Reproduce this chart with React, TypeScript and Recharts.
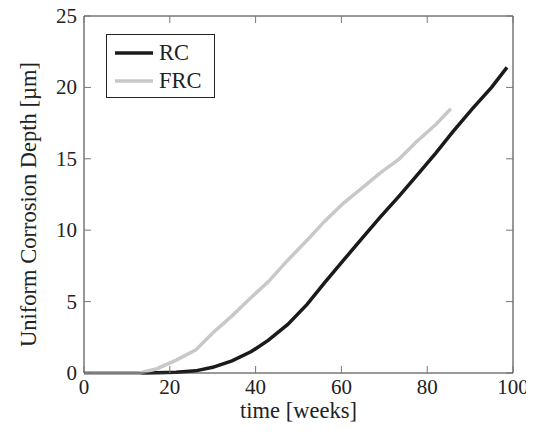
import { LineChart, Line, XAxis, YAxis, ReferenceLine, Legend, Label } from 'recharts'

// weeks / depth in µm
const rcWeeks = [0, 4, 8, 13, 17, 21.5, 26, 30, 34.5, 39, 43, 47.5, 52, 56, 60.5, 65, 69, 73.5, 77.5, 82, 86, 90.5, 95, 98.6]
const rcDepth = [0, 0, 0, 0, 0.02, 0.05, 0.15, 0.4, 0.85, 1.5, 2.3, 3.4, 4.8, 6.3, 7.9, 9.5, 10.9, 12.4, 13.8, 15.4, 16.9, 18.5, 20.0, 21.4]
const frcWeeks = [0, 4, 8, 13, 17, 21.5, 26, 30, 34.5, 39, 43, 47.5, 52, 56, 60.5, 65, 69, 73.5, 77.5, 82, 85.5]
const frcDepth = [0, 0, 0, 0, 0.3, 0.9, 1.6, 2.8, 4.0, 5.3, 6.4, 7.9, 9.3, 10.6, 11.9, 13.0, 14.0, 15.0, 16.2, 17.4, 18.5]
const xTicks = [0, 20, 40, 60, 80, 100]
const yTicks = [0, 5, 10, 15, 20, 25]

const seriesNames = ['RC', 'FRC']
const colors = ['#1a1a1a', '#c8c8c8']

const rcData = rcWeeks.map((x, i) => ({ x, y: rcDepth[i] }))
const frcData = frcWeeks.map((x, i) => ({ x, y: frcDepth[i] }))

const W = 526
const H = 435
const margin = { top: 16, right: 21, left: 8, bottom: 0 }
const Y_AXIS_W = 68
const X_AXIS_H = 62
const PW = W - margin.left - margin.right - Y_AXIS_W
const PH = H - margin.top - margin.bottom - X_AXIS_H
const TICK = 7
const FONT = '"Liberation Serif", serif'
const FS = 22.5
const TICK_FS = 21
const TICK_COLOR = '#777'
const BORDER = '#333'

const XTick = ({ x, y, payload }: any) => (
  <g>
    <line x1={x} y1={y} x2={x} y2={y - TICK} stroke={TICK_COLOR} />
    <line x1={x} y1={y - PH} x2={x} y2={y - PH + TICK} stroke={TICK_COLOR} />
    <text x={x} y={y + 21} textAnchor="middle" fontFamily={FONT} fontSize={TICK_FS} fill="#222">
      {payload.value}
    </text>
  </g>
)

const YTick = ({ x, y, payload }: any) => (
  <g>
    <line x1={x} y1={y} x2={x + TICK} y2={y} stroke={TICK_COLOR} />
    <line x1={x + PW} y1={y} x2={x + PW - TICK} y2={y} stroke={TICK_COLOR} />
    <text x={x - 7} y={y + 7} textAnchor="end" fontFamily={FONT} fontSize={TICK_FS} fill="#222">
      {payload.value}
    </text>
  </g>
)

const LegendBox = () => (
  <div
    style={{
      border: '1px solid #222',
      width: 107,
      height: 62,
      background: '#fff',
      fontFamily: FONT,
      fontSize: FS,
      color: '#222',
      boxSizing: 'content-box'
    }}
  >
    {seriesNames.map((name, i) => (
      <div key={name} style={{ display: 'flex', alignItems: 'center', height: 28, marginTop: i === 0 ? 4 : 0 }}>
        <svg width={52} height={10} style={{ display: 'block' }}>
          <line x1={8} y1={5} x2={46} y2={5} stroke={colors[i]} strokeWidth={3.5} />
        </svg>
        <span style={{ lineHeight: '28px' }}>{name}</span>
      </div>
    ))}
  </div>
)

export default function App() {
  return (
    <div style={{ width: W, height: H, marginTop: -8 }}>
      <LineChart width={W} height={H} margin={margin}>
        <XAxis
          dataKey="x"
          type="number"
          domain={[0, 100]}
          ticks={xTicks}
          tickSize={0}
          tickMargin={0}
          tickLine={false}
          tick={<XTick />}
          height={X_AXIS_H}
          axisLine={{ stroke: BORDER }}
          allowDuplicatedCategory={false}
        >
          <Label
            value="time [weeks]"
            position="insideBottom"
            offset={17}
            style={{ fontFamily: FONT, fontSize: FS, fill: '#222', textAnchor: 'middle' }}
          />
        </XAxis>
        <YAxis
          type="number"
          domain={[0, 25]}
          ticks={yTicks}
          tickSize={0}
          tickMargin={0}
          tickLine={false}
          tick={<YTick />}
          width={Y_AXIS_W}
          axisLine={{ stroke: BORDER }}
        >
          <Label
            value="Uniform Corrosion Depth [µm]"
            angle={-90}
            position="insideLeft"
            offset={12}
            dy={10}
            style={{ fontFamily: FONT, fontSize: FS, fill: '#222', textAnchor: 'middle' }}
          />
        </YAxis>
        <ReferenceLine x={100} stroke={BORDER} />
        <ReferenceLine y={25} stroke={BORDER} />
        <Legend
          content={<LegendBox />}
          layout="horizontal"
          verticalAlign="middle"
          align="center"
          wrapperStyle={{ top: 34, left: 98, width: 'auto' }}
        />
        <Line
          data={rcData}
          dataKey="y"
          name="RC"
          stroke={colors[0]}
          strokeWidth={3.5}
          dot={false}
          type="linear"
          isAnimationActive={false}
        />
        <Line
          data={frcData}
          dataKey="y"
          name="FRC"
          stroke={colors[1]}
          strokeWidth={3.5}
          dot={false}
          type="linear"
          isAnimationActive={false}
        />
      </LineChart>
    </div>
  )
}
